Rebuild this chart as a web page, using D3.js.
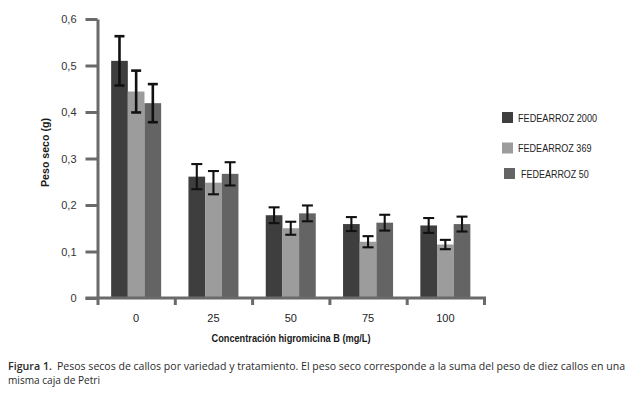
<!DOCTYPE html>
<html><head><meta charset="utf-8">
<script src="https://cdn.jsdelivr.net/npm/d3@7"></script>
<style>
html,body{margin:0;padding:0;background:#fff;}
svg{display:block;}
</style></head>
<body>
<svg id="c" width="639" height="396"></svg>
<script>
// ---- data ----
const categories = ["0", "25", "50", "75", "100"];
const seriesNames = ["FEDEARROZ 2000", "FEDEARROZ 369", "FEDEARROZ 50"];
const f2000 = [0.510, 0.261, 0.178, 0.159, 0.156];
const f369  = [0.444, 0.248, 0.150, 0.121, 0.115];
const f50   = [0.419, 0.267, 0.182, 0.162, 0.159];
const err2000 = [0.053, 0.027, 0.017, 0.015, 0.016];
const err369  = [0.045, 0.025, 0.014, 0.012, 0.010];
const err50   = [0.041, 0.025, 0.017, 0.017, 0.016];
const yTicks = [0, 0.1, 0.2, 0.3, 0.4, 0.5, 0.6];
const yTitle = "Peso seco (g)";
const xTitle = "Concentración higromicina B (mg/L)";
const captionBold = "Figura 1.";
const captionLine1 = "Pesos secos de callos por variedad y tratamiento. El peso seco corresponde a la suma del peso de diez callos en una";
const captionLine2 = "misma caja de Petri";

const values = [f2000, f369, f50];
const errors = [err2000, err369, err50];
const colors = ["#3e3e3e", "#9c9c9c", "#646464"];

// ---- layout ----
const svg = d3.select("#c");
const pLeft = 97.5, pRight = 484, pTop = 19, pBottom = 298;
const axisColor = "#6a6a6a";
const font = "'Liberation Sans', Arial, sans-serif";

const y = d3.scaleLinear().domain([0, 0.6]).range([pBottom, pTop]);
const x0 = d3.scaleBand().domain(categories).range([pLeft, pRight]).padding(0);
const groupW = 50;
const x1 = d3.scaleBand().domain(seriesNames)
  .range([(x0.step() - groupW) / 2, (x0.step() + groupW) / 2]).padding(0);

// bars
const g = svg.append("g");
seriesNames.forEach((s, si) => {
  g.selectAll(null).data(categories).enter().append("rect")
    .attr("x", c => x0(c) + x1(s))
    .attr("width", x1.bandwidth())
    .attr("y", (c, i) => y(values[si][i]))
    .attr("height", (c, i) => y(0) - y(values[si][i]))
    .attr("fill", colors[si]);
});

// error bars
seriesNames.forEach((s, si) => {
  categories.forEach((c, i) => {
    const cx = x0(c) + x1(s) + x1.bandwidth() / 2;
    const v = values[si][i], e = errors[si][i];
    const sw = i === 0 ? 2.6 : 2.1;
    const cap = i === 0 ? 5 : 5.5;
    const eg = g.append("g").attr("stroke", "#111").attr("stroke-width", sw);
    eg.append("line").attr("x1", cx).attr("x2", cx).attr("y1", y(v + e)).attr("y2", y(v - e));
    eg.append("line").attr("x1", cx - cap).attr("x2", cx + cap).attr("y1", y(v + e)).attr("y2", y(v + e));
    eg.append("line").attr("x1", cx - cap).attr("x2", cx + cap).attr("y1", y(v - e)).attr("y2", y(v - e));
  });
});

// y axis
const yAxis = svg.append("g").attr("transform", `translate(${pLeft},0)`)
  .call(d3.axisLeft(y).tickValues(yTicks).tickSize(12).tickSizeOuter(0)
    .tickFormat(d => d === 0 ? "0" : d3.format(".1f")(d).replace(".", ",")));
yAxis.select(".domain").attr("stroke", axisColor).attr("stroke-width", 3);
yAxis.selectAll(".tick line").attr("stroke", axisColor).attr("stroke-width", 3);
yAxis.selectAll(".tick text").attr("x", -21).attr("font-family", font).attr("font-size", 11)
  .attr("fill", "#333");

// x axis: boundary ticks
const xb = d3.scaleLinear().domain([0, categories.length]).range([pLeft, pRight]);
const xAxisB = svg.append("g").attr("transform", `translate(0,${pBottom})`)
  .call(d3.axisBottom(xb).ticks(categories.length).tickSize(7).tickSizeOuter(0).tickFormat(""));
xAxisB.select(".domain").remove();
xAxisB.selectAll(".tick line").attr("stroke", axisColor).attr("stroke-width", 3);
svg.append("line").attr("x1", pLeft - 12).attr("x2", pRight + 2).attr("y1", pBottom).attr("y2", pBottom)
  .attr("stroke", axisColor).attr("stroke-width", 3);

// x category labels
const xAxisL = svg.append("g").attr("transform", `translate(0,${pBottom})`)
  .call(d3.axisBottom(x0).tickSize(0).tickPadding(16));
xAxisL.select(".domain").remove();
xAxisL.selectAll(".tick text").attr("font-family", font).attr("font-size", 11).attr("fill", "#222");

// axis titles
svg.append("text").attr("x", 291).attr("y", 342)
  .attr("text-anchor", "middle").attr("font-family", font).attr("font-weight", "bold")
  .attr("font-size", 11.5).attr("fill", "#1a1a1a")
  .attr("textLength", 159).attr("lengthAdjust", "spacingAndGlyphs").text(xTitle);
svg.append("text").attr("transform", `translate(49,${(118 + 187) / 2}) rotate(-90)`)
  .attr("text-anchor", "middle").attr("font-family", font).attr("font-weight", "bold")
  .attr("font-size", 11.5).attr("fill", "#1a1a1a")
  .attr("textLength", 69).attr("lengthAdjust", "spacingAndGlyphs").text(yTitle);

// legend
const legendY = [117.5, 148, 173.5];
const legendDx = [0, 0, 2];
const leg = svg.append("g");
seriesNames.forEach((s, si) => {
  leg.append("rect").attr("x", 502 + legendDx[si]).attr("y", legendY[si] - 5.5)
    .attr("width", 11).attr("height", 11).attr("fill", colors[si]);
  leg.append("text").attr("x", 518 + legendDx[si] * 1.5).attr("y", legendY[si] + 4)
    .attr("font-family", font).attr("font-size", 11).attr("fill", "#222")
    .attr("textLength", s.length * 5.65).attr("lengthAdjust", "spacingAndGlyphs").text(s);
});

// caption
const capFont = "'Open Sans', Lato, sans-serif";
svg.append("text").attr("x", 8).attr("y", 370).attr("font-family", capFont)
  .attr("font-size", 10.5).attr("font-weight", "600").attr("fill", "#2a2a2a")
  .attr("textLength", 44).attr("lengthAdjust", "spacingAndGlyphs").text(captionBold);
svg.append("text").attr("x", 57).attr("y", 370).attr("font-family", capFont)
  .attr("font-size", 10.2).attr("fill", "#2a2a2a")
  .attr("textLength", 568).attr("lengthAdjust", "spacingAndGlyphs").text(captionLine1);
svg.append("text").attr("x", 8).attr("y", 384).attr("font-family", capFont)
  .attr("font-size", 10.2).attr("fill", "#2a2a2a")
  .attr("textLength", 92).attr("lengthAdjust", "spacingAndGlyphs").text(captionLine2);
</script>
</body></html>
